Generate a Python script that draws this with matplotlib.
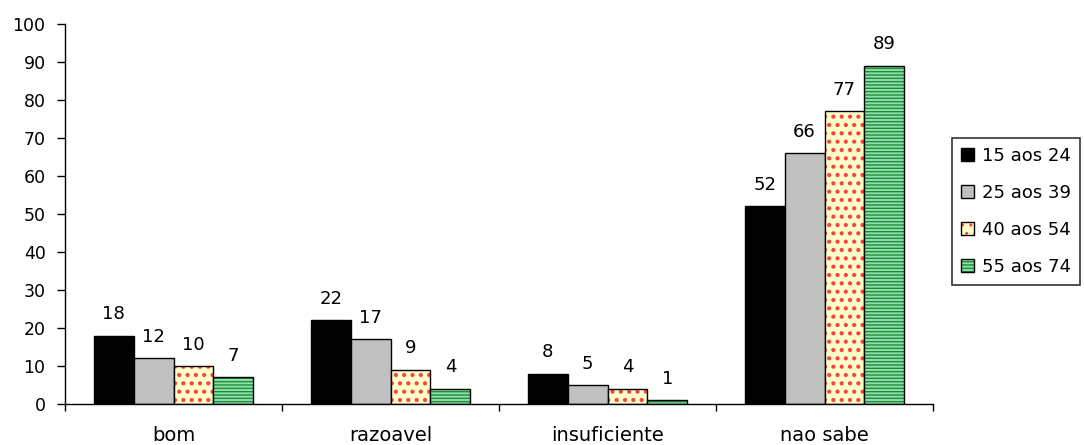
import matplotlib.pyplot as plt
import numpy as np

plt.rcParams['font.family'] = ['DejaVu Sans']

categorias = ['bom', 'razoavel', 'insuficiente', 'nao sabe']
faixas = ['15 aos 24', '25 aos 39', '40 aos 54', '55 aos 74']
valores = [
    [18, 22, 8, 52],
    [12, 17, 5, 66],
    [10, 9, 4, 77],
    [7, 4, 1, 89],
]

# fill, hatch, hatch colour, hatch line width for each age band
estilos = [
    ('#000000', None, None, 1.0),
    ('#C0C0C0', None, None, 1.0),
    ('#FFFFCC', '..', '#FF4040', 1.8),
    ('#8FE0A8', '-----', '#1E8C3C', 1.0),
]

fs = 13
fig = plt.figure(figsize=(10.84, 4.45), dpi=100)
ax = fig.add_axes([0.06, 0.0921, 0.8007, 0.854])

x = np.arange(len(categorias)) + 0.5
largura = 0.184
handles = []
for i, (serie, (cor, hatch, cor_hatch, lw_hatch)) in enumerate(zip(valores, estilos)):
    pos = x + (i - 1.5) * largura
    with plt.rc_context({'hatch.linewidth': lw_hatch}):
        if hatch:
            # hatch colour follows the edge colour, so draw the pattern first
            ax.bar(pos, serie, largura, color=cor, hatch=hatch,
                   edgecolor=cor_hatch, linewidth=0)
        barras = ax.bar(pos, serie, largura, facecolor=cor if not hatch else 'none',
                        edgecolor='black', linewidth=1.0)
        if hatch:
            h = plt.Rectangle((0, 0), 1, 1, facecolor=cor, edgecolor=cor_hatch,
                              linewidth=0, hatch=hatch)
            borda = plt.Rectangle((0, 0), 1, 1, facecolor='none', edgecolor='black',
                                  linewidth=1.0)
            handles.append((h, borda))
        else:
            handles.append(plt.Rectangle((0, 0), 1, 1, facecolor=cor,
                                         edgecolor='black', linewidth=1.0))
    ax.bar_label(barras, labels=[str(v) for v in serie], padding=9, fontsize=fs)

ax.set_xlim(0, 4)
ax.set_ylim(0, 100)
ax.set_yticks(range(0, 101, 10))
ax.set_xticks(range(0, 5))
ax.set_xticklabels([])
ax.set_xticks(x, minor=True)
ax.set_xticklabels(categorias, minor=True)
ax.tick_params(axis='x', which='minor', length=0, pad=16, labelsize=14)
ax.tick_params(axis='x', which='major', length=5, direction='out', width=1)
ax.tick_params(axis='y', length=6, direction='out', width=1, labelsize=12.5, pad=8)
for lado in ['top', 'right']:
    ax.spines[lado].set_visible(False)
for lado in ['left', 'bottom']:
    ax.spines[lado].set_linewidth(1.0)

leg = fig.legend(handles, faixas, loc='upper left',
                 bbox_to_anchor=(952 / 1084, 1 - 138 / 445), frameon=True,
                 fancybox=False, fontsize=fs, handlelength=0.7, handleheight=0.7,
                 handletextpad=0.45, labelspacing=1.05, borderpad=0.5,
                 borderaxespad=0, edgecolor='black')
leg.get_frame().set_linewidth(1.2)

fig.savefig('out.png', dpi=100)
